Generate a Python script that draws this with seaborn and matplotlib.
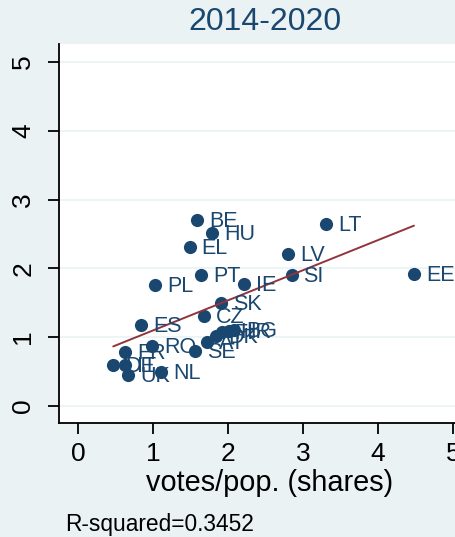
import numpy as np
import pandas as pd
import matplotlib
matplotlib.use("Agg")
import matplotlib.pyplot as plt
import seaborn as sns

# values (votes/pop. share vs. funds share)
countries = ["BE", "HU", "EL", "LT", "LV", "PT", "SI", "EE", "PL", "IE",
             "SK", "CZ", "ES", "RO", "SE", "FR", "DE", "IT", "UK", "NL",
             "AT", "DK", "FI", "HR", "BG"]
votes_pop = [1.59, 1.79, 1.49, 3.31, 2.80, 1.64, 2.85, 4.48, 1.03, 2.21,
             1.91, 1.68, 0.84, 0.99, 1.56, 0.63, 0.47, 0.63, 0.67, 1.11,
             1.72, 1.84, 1.92, 2.01, 2.08]
funds_pop = [2.70, 2.51, 2.31, 2.65, 2.21, 1.90, 1.90, 1.92, 1.76, 1.77,
             1.50, 1.31, 1.18, 0.87, 0.80, 0.78, 0.60, 0.60, 0.45, 0.49,
             0.93, 1.02, 1.08, 1.09, 1.10]
r2_text = "R-squared=0.3452"

df = pd.DataFrame({"Country": countries, "Votes": votes_pop, "Funds": funds_pop})

navy = "#1a476f"
bg = "#eaf2f3"

sns.set_style("white")
plt.rcParams["font.family"] = ["Liberation Sans", "DejaVu Sans"]

W, H = 456, 537
fig = plt.figure(figsize=(W / 100, H / 100), dpi=100, facecolor=bg)
ax = fig.add_axes([59 / W, (H - 423) / H, (480 - 59) / W, (423 - 44) / H])
ax.set_facecolor("white")

sns.regplot(data=df, x="Votes", y="Funds", ax=ax, ci=None,
            scatter_kws={"s": 90, "color": navy, "alpha": 1, "linewidths": 0, "zorder": 3},
            line_kws={"color": "#90353b", "lw": 1.4, "zorder": 4})

for _, r in df.iterrows():
    ax.annotate(r["Country"], (r["Votes"], r["Funds"]), xytext=(8.5, -1),
                textcoords="offset points", va="center", ha="left",
                fontsize=15.5, color=navy, zorder=5)

ax.set_xlim(-0.253, 5.36)
ax.set_ylim(-0.247, 5.26)
ax.set_xticks(range(0, 6))
ax.set_yticks(range(0, 6))
ax.yaxis.grid(True, color=bg, lw=1.2)
ax.set_axisbelow(True)
for s in ["top", "right"]:
    ax.spines[s].set_visible(False)
for s in ["left", "bottom"]:
    ax.spines[s].set_color("black")
    ax.spines[s].set_linewidth(1.3)
ax.tick_params(axis="both", direction="out", length=8, width=1.3, color="black",
               labelsize=19, labelcolor="black", left=True, bottom=True)
ax.tick_params(axis="x", pad=6)
ax.tick_params(axis="y", pad=9)
plt.setp(ax.get_yticklabels(), rotation=90, va="center")
ax.set_xlabel("votes/pop. (shares)", fontsize=20.8, color="black", labelpad=2)
ax.set_ylabel("")

fig.text(265 / W, 1 - 22 / H, "2014-2020", ha="center", va="center",
         fontsize=23, color=navy)
fig.text(65 / W, 1 - 524 / H, r2_text, ha="left", va="center",
         fontsize=16.4, color="black")

fig.savefig("out.png", dpi=100, facecolor=bg)
